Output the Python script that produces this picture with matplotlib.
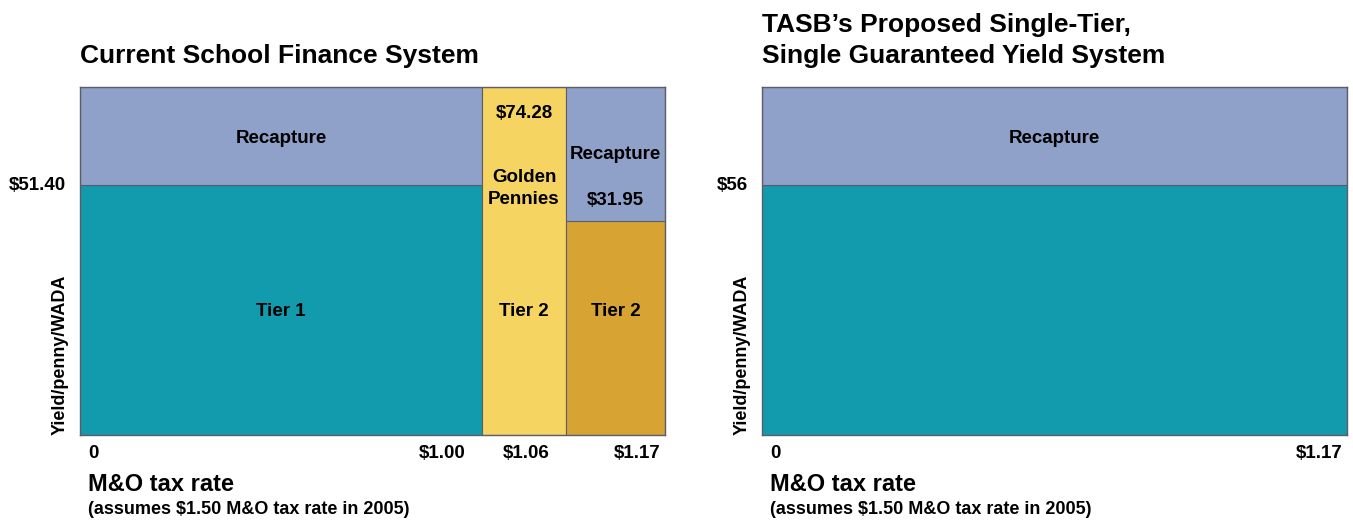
import matplotlib.pyplot as plt
from matplotlib.patches import Rectangle

plt.rcParams['font.family'] = ['Liberation Sans', 'DejaVu Sans']
plt.rcParams['font.weight'] = 'bold'

# Схематичные данные (высоты в долях от полной высоты графика, ширины в условных единицах)
cur_widths = [402, 84, 99]             # Tier 1, Golden Pennies, Tier 2
cur_heights = [0.718, 1.0, 0.615]      # верх уровня
cur_colors = ['#119bad', '#f5d462', '#d7a434']
cur_edges = ['0', '$1.00', '$1.06', '$1.17']
cur_ylabel = '$51.40'

new_widths = [585]
new_heights = [0.718]
new_edges = ['0', '$1.17']
new_ylabel = '$56'

recap_color = '#8fa1c8'
edge_color = '#5c5c6c'
fs = 13.5

fig = plt.figure(figsize=(13.53, 5.2), dpi=100)
ax1 = fig.add_axes([80/1353, 85/520, 585/1353, 348/520])
ax2 = fig.add_axes([762/1353, 85/520, 585/1353, 348/520])


def draw_panel(ax, widths, heights, colors, edges, ylab_text, title):
    x = 0
    for w, h, c in zip(widths, heights, colors):
        ax.add_patch(Rectangle((x, 0), w, h, facecolor=c, edgecolor=edge_color, lw=0.8))
        if h < 1:
            ax.add_patch(Rectangle((x, h), w, 1 - h, facecolor=recap_color,
                                   edgecolor=edge_color, lw=0.8))
        x += w
    total = sum(widths)
    ax.set_xlim(0, total)
    ax.set_ylim(0, 1)
    ax.set_xticks([])
    ax.set_yticks([])
    for s in ax.spines.values():
        s.set_color(edge_color)
        s.set_linewidth(1.0)

    # подписи по оси X
    pos = [0]
    for w in widths:
        pos.append(pos[-1] + w)
    for i, (p, lab) in enumerate(zip(pos, edges)):
        if i == 0:
            ax.annotate(lab, (p, 0), xytext=(8, -10), textcoords='offset pixels',
                        ha='left', va='top', fontsize=fs)
        elif i == len(pos) - 1:
            ax.annotate(lab, (p, 0), xytext=(-4, -10), textcoords='offset pixels',
                        ha='right', va='top', fontsize=fs)
        else:
            ax.annotate(lab, (p, 0), xytext=(-16, -10), textcoords='offset pixels',
                        ha='right', va='top', fontsize=fs)

    ax.annotate(ylab_text, (0, heights[0]), xytext=(-14, 0), textcoords='offset pixels',
                ha='right', va='center', fontsize=fs)
    ax.text(-0.034, 0, 'Yield/penny/WADA', transform=ax.transAxes, rotation=90,
            ha='center', va='bottom', fontsize=13)
    ax.text(8 / total, -0.141, 'M&O tax rate', transform=ax.transAxes,
            ha='left', va='center', fontsize=17)
    ax.text(8 / total, -0.2155, '(assumes $1.50 M&O tax rate in 2005)',
            transform=ax.transAxes, ha='left', va='center', fontsize=13)
    ax.set_title(title, loc='left', fontsize=19, fontweight='bold', pad=17,
                 linespacing=1.4)
    return pos


pos = draw_panel(ax1, cur_widths, cur_heights, cur_colors, cur_edges, cur_ylabel,
                 'Current School Finance System')
c = [(pos[i] + pos[i + 1]) / 2 for i in range(3)]
ax1.text(c[0], 0.851, 'Recapture', ha='center', va='center', fontsize=fs)
ax1.text(c[0], 0.355, 'Tier 1', ha='center', va='center', fontsize=fs)
ax1.text(c[1], 0.924, '$74.28', ha='center', va='center', fontsize=fs)
ax1.text(c[1], 0.708, 'Golden\nPennies', ha='center', va='center', fontsize=fs,
         linespacing=1.35)
ax1.text(c[1], 0.355, 'Tier 2', ha='center', va='center', fontsize=fs)
ax1.text(c[2], 0.806, 'Recapture', ha='center', va='center', fontsize=fs)
ax1.text(c[2], 0.674, '$31.95', ha='center', va='center', fontsize=fs)
ax1.text(c[2], 0.355, 'Tier 2', ha='center', va='center', fontsize=fs)

pos2 = draw_panel(ax2, new_widths, new_heights, ['#119bad'], new_edges, new_ylabel,
                  'TASB\u2019s Proposed Single-Tier,\nSingle Guaranteed Yield System')
ax2.text(pos2[1] / 2, 0.851, 'Recapture', ha='center', va='center', fontsize=fs)

fig.savefig('out.png', dpi=100)
